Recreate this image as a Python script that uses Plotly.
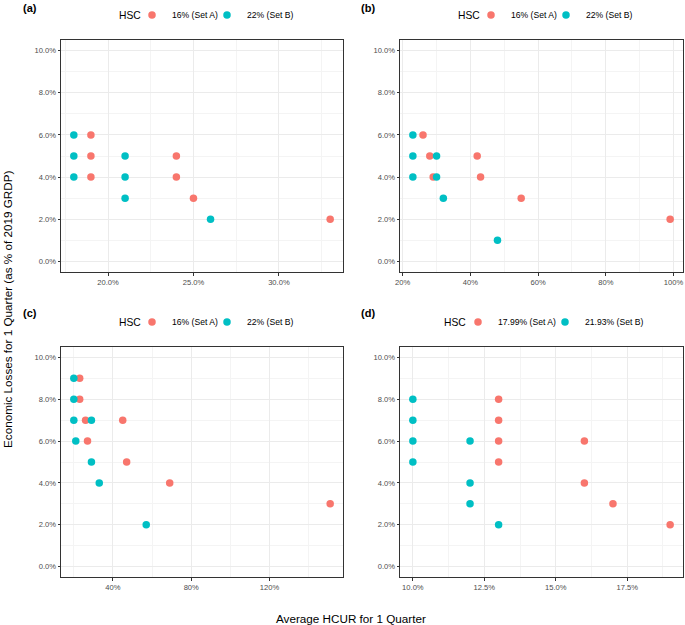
import plotly.graph_objects as go

W, H = 685, 625
RED = "#F8766D"
CYAN = "#00BFC4"

# ---- data (percent values) ----
a_setA_x = [19, 19, 19, 24, 24, 25, 33]
a_setA_y = [6, 5, 4, 5, 4, 3, 2]
a_setB_x = [18, 18, 18, 21, 21, 21, 26]
a_setB_y = [6, 5, 4, 5, 4, 3, 2]

b_setA_x = [26, 28, 29, 42, 43, 55, 99]
b_setA_y = [6, 5, 4, 5, 4, 3, 2]
b_setB_x = [23, 23, 23, 30, 30, 32, 48]
b_setB_y = [6, 5, 4, 5, 4, 3, 1]

c_setA_x = [23, 23, 26, 27, 45, 47, 69, 151]
c_setA_y = [9, 8, 7, 6, 7, 5, 4, 3]
c_setB_x = [20, 20, 20, 21, 29, 29, 33, 57]
c_setB_y = [9, 8, 7, 6, 7, 5, 4, 2]

d_setA_x = [13, 13, 13, 13, 16, 16, 17, 19]
d_setA_y = [8, 7, 6, 5, 6, 4, 3, 2]
d_setB_x = [10, 10, 10, 10, 12, 12, 12, 13]
d_setB_y = [8, 7, 6, 5, 6, 4, 3, 2]

labels_abc = ["16% (Set A)", "22% (Set B)"]
labels_d = ["17.99% (Set A)", "21.93% (Set B)"]
panel_tags = ["(a)", "(b)", "(c)", "(d)"]
legend_title = "HSC"

y_range_data = [0, 10]

panels = [
    dict(ax=a_setA_x, ay=a_setA_y, bx=a_setB_x, by=a_setB_y, labels=labels_abc,
         dtick=5, fmt=".1f", xdom=(61, 343), ydom=(40, 272)),
    dict(ax=b_setA_x, ay=b_setA_y, bx=b_setB_x, by=b_setB_y, labels=labels_abc,
         dtick=20, fmt=".0f", xdom=(400, 683), ydom=(40, 272)),
    dict(ax=c_setA_x, ay=c_setA_y, bx=c_setB_x, by=c_setB_y, labels=labels_abc,
         dtick=40, fmt=".0f", xdom=(61, 343), ydom=(347, 577)),
    dict(ax=d_setA_x, ay=d_setA_y, bx=d_setB_x, by=d_setB_y, labels=labels_d,
         dtick=2.5, fmt=".1f", xdom=(400, 683), ydom=(347, 577)),
]

FONT = "Liberation Sans, Arial, Helvetica, sans-serif"
fig = go.Figure()
layout = dict(
    width=W, height=H, margin=dict(l=0, r=0, t=0, b=0, autoexpand=False),
    paper_bgcolor="white", plot_bgcolor="white",
    font=dict(family=FONT, color="#000000"),
    annotations=[], showlegend=True,
)

# legend layout: (title x, title y, item A marker x, item B marker x)
legend_pos = [(117, 15, 152, 227), (456, 15, 491, 566),
              (117, 322, 152, 227), (442, 322, 478, 565)]
tag_pos = [(21, 8), (359, 8), (21, 313), (359, 313)]

leg_idx = 1
for i, p in enumerate(panels, start=1):
    sfx = "" if i == 1 else str(i)
    tx, ty, mA, mB = legend_pos[i - 1]
    for xs, ys, col, lab, mx in [(p["ax"], p["ay"], RED, p["labels"][0], mA),
                                 (p["bx"], p["by"], CYAN, p["labels"][1], mB)]:
        leg = "legend" if leg_idx == 1 else f"legend{leg_idx}"
        leg_idx += 1
        fig.add_trace(go.Scatter(
            x=xs, y=ys, mode="markers", name=lab,
            marker=dict(color=col, size=7.5, line=dict(width=0)),
            xaxis=f"x{sfx}", yaxis=f"y{sfx}", legend=leg,
        ))
        layout[leg] = dict(
            orientation="h", x=(mx - 20) / W, y=1 - ty / H, xanchor="left", yanchor="middle",
            font=dict(family=FONT, size=8.6, color="#000"),
            bgcolor="rgba(0,0,0,0)", itemsizing="trace", borderwidth=0,
        )
    layout["annotations"].append(dict(
        text=legend_title, x=tx / W, y=1 - ty / H, xref="paper", yref="paper",
        xanchor="left", yanchor="middle", showarrow=False,
        font=dict(family=FONT, size=10.3, color="#000"),
    ))
    allx = p["ax"] + p["bx"]
    lo, hi = min(allx), max(allx)
    pad = 0.05 * (hi - lo)
    ylo, yhi = y_range_data
    ypad = 0.05 * (yhi - ylo)
    x0, x1 = p["xdom"]
    y0, y1 = p["ydom"]
    common = dict(
        showline=True, mirror=True, linecolor="#333333", linewidth=1,
        showgrid=True, gridcolor="#EBEBEB", gridwidth=1, automargin=False,
        zeroline=False, ticks="outside", ticklen=2.5, tickcolor="#333333", tickwidth=1,
        tickfont=dict(family=FONT, size=7.6, color="#4D4D4D"),
        ticksuffix="%",
    )
    layout[f"xaxis{sfx}"] = dict(
        common, domain=[x0 / W, x1 / W], range=[lo - pad, hi + pad],
        anchor=f"y{sfx}", tick0=0, dtick=p["dtick"], tickformat=p["fmt"],
        minor=dict(showgrid=True, gridcolor="#F4F4F4", gridwidth=0.6,
                   tick0=0, dtick=p["dtick"] / 2),
    )
    layout[f"yaxis{sfx}"] = dict(
        common, domain=[1 - y1 / H, 1 - y0 / H], range=[ylo - ypad, yhi + ypad],
        anchor=f"x{sfx}", tick0=0, dtick=2, tickformat=".1f",
        minor=dict(showgrid=True, gridcolor="#F4F4F4", gridwidth=0.6, tick0=0, dtick=1),
    )
    gx, gy = tag_pos[i - 1]
    layout["annotations"].append(dict(
        text=f"<b>{panel_tags[i - 1]}</b>", x=gx / W, y=1 - gy / H,
        xref="paper", yref="paper", xanchor="left", yanchor="middle",
        showarrow=False, font=dict(family=FONT, size=11, color="#000"),
    ))

layout["annotations"].append(dict(
    text="Average HCUR for 1 Quarter", x=351 / W, y=1 - 618 / H,
    xref="paper", yref="paper", xanchor="center", yanchor="middle",
    showarrow=False, font=dict(family=FONT, size=11.7, color="#000"),
))
layout["annotations"].append(dict(
    text="Economic Losses for 1 Quarter (as % of 2019 GRDP)", x=7 / W, y=1 - 310 / H,
    xref="paper", yref="paper", xanchor="center", yanchor="middle", textangle=-90,
    showarrow=False, font=dict(family=FONT, size=11.7, color="#000"),
))

fig.update_layout(**layout)
fig.write_html(
    "out.html",
    config={"displayModeBar": False},
    post_script="document.body.style.margin='0';document.body.style.overflow='hidden';",
)
